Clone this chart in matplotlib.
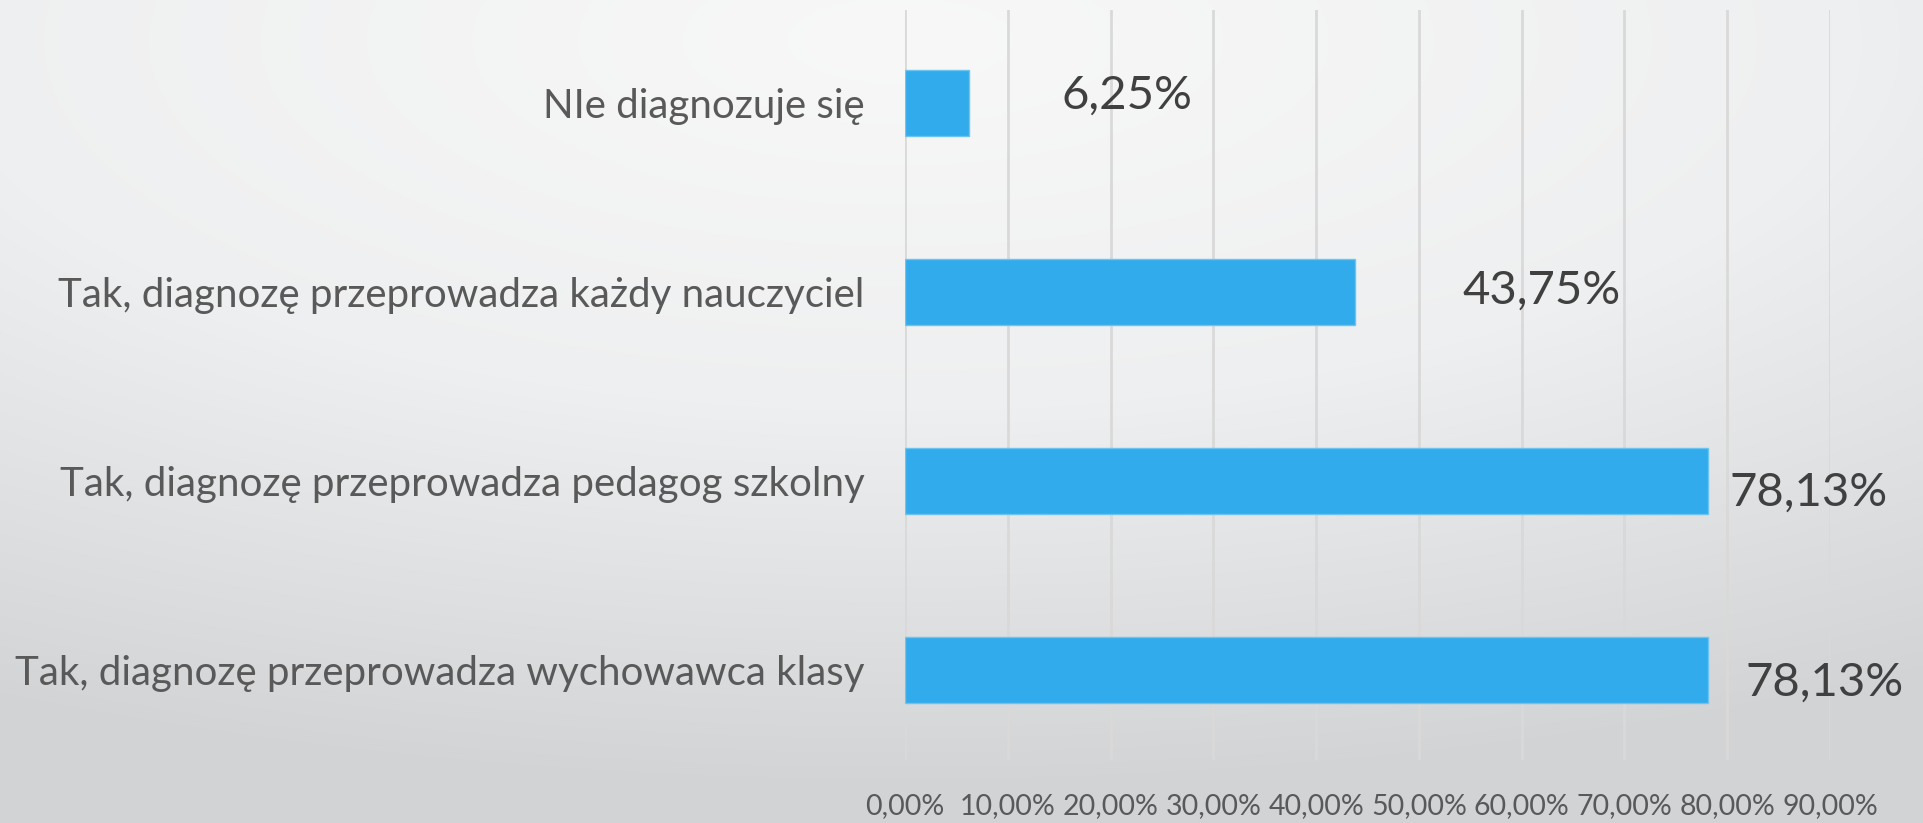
import numpy as np
import matplotlib.pyplot as plt
from matplotlib.colors import LinearSegmentedColormap
from matplotlib.ticker import FuncFormatter

categories = [
    "NIe diagnozuje się",
    "Tak, diagnozę przeprowadza każdy nauczyciel",
    "Tak, diagnozę przeprowadza pedagog szkolny",
    "Tak, diagnozę przeprowadza wychowawca klasy",
]
values = [0.0625, 0.4375, 0.7813, 0.7813]
value_labels = ["6,25%", "43,75%", "78,13%", "78,13%"]
xticks = [0.0, 0.1, 0.2, 0.3, 0.4, 0.5, 0.6, 0.7, 0.8, 0.9]

# label offsets in pixels (dx, dy), as placed in the original slide
label_offsets = [(92, 7), (108, 1), (21, -12), (37, -13)]

plt.rcParams["font.family"] = ["Lato", "DejaVu Sans"]

W, H, DPI = 1923, 823, 100
fig = plt.figure(figsize=(W / DPI, H / DPI), dpi=DPI)

# soft radial background like the slide
bg = fig.add_axes([0, 0, 1, 1], zorder=-10)
yy, xx = np.mgrid[0:H, 0:W]
r = np.sqrt(((xx - 900) / W) ** 2 + ((yy - 40) / (H * 0.9)) ** 2)
r = np.clip(r, 0, 1)
cmap = LinearSegmentedColormap.from_list("bg", ["#f8f8f8", "#eeeff0", "#d2d4d6"])
bg.imshow(r, cmap=cmap, aspect="auto", extent=[0, 1, 0, 1], vmin=0, vmax=1)
bg.axis("off")

ax = fig.add_axes([905 / W, 1 - 760 / H, (1830 - 905) / W, 750 / H])
ax.patch.set_alpha(0)

ypos = np.arange(len(categories))
ax.barh(ypos, values, height=0.35, color="#31abeb", edgecolor="#6cc4f0",
        linewidth=1, zorder=3)

ax.set_xlim(0, 0.9)
ax.set_ylim(3.476, -0.492)
ax.set_xticks(xticks)
ax.xaxis.set_major_formatter(FuncFormatter(lambda v, _: f"{v * 100:.2f}%".replace(".", ",")))
ax.set_yticks(ypos)
ax.set_yticklabels(categories)
ax.grid(axis="x", color="#d9d9d9", linewidth=2, zorder=0)
for s in ax.spines.values():
    s.set_visible(False)
ax.tick_params(axis="x", length=0, pad=24, labelsize=20.5, labelcolor="#595959")
ax.tick_params(axis="y", length=0, pad=29, labelsize=29, labelcolor="#595959")

for i, (v, lab) in enumerate(zip(values, value_labels)):
    dx, dy = label_offsets[i]
    ax.annotate(lab, xy=(v, i), xytext=(dx, dy), textcoords="offset pixels",
                ha="left", va="center", fontsize=34, color="#404040",
                annotation_clip=False)

fig.savefig("out.png", dpi=DPI)
